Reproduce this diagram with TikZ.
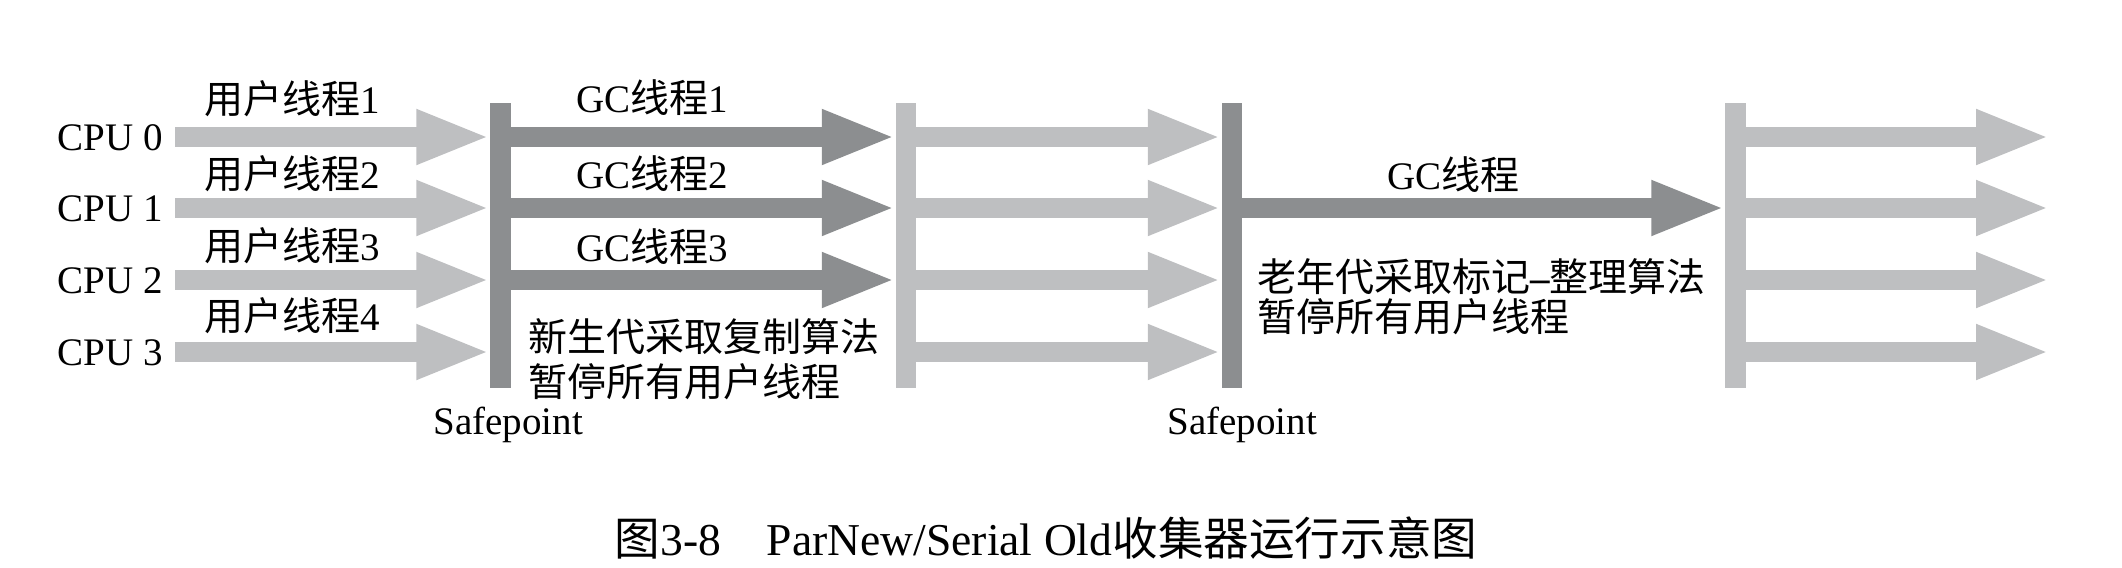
\documentclass[tikz,border=0pt]{standalone}
\usepackage{fontspec}
\setmainfont{Liberation Serif}
\newfontfamily\cjk{Noto Sans CJK SC}
\usetikzlibrary{arrows.meta}
\definecolor{lightg}{RGB}{190,191,193}
\definecolor{darkg}{RGB}{140,142,144}
\newcommand{\zh}[1]{{\cjk #1}}
\begin{document}
\begin{tikzpicture}[x=0.5pt,y=-0.5pt,
  bar/.style={inner sep=0pt, outer sep=0pt, minimum width=10.25pt, minimum height=142.5pt, draw=none},
  thread/.style={line width=10pt, -{Triangle[length=37pt,width=25pt]}},
  lbl/.style={inner sep=0pt, font=\fontsize{19.5}{23}\selectfont, anchor=base west},
  desc/.style={inner sep=0pt, align=left, anchor=west}]
\useasboundingbox (0,0) rectangle (2122,568);

% safepoint bars
\node[bar, fill=darkg]  (sp1) at (500.5,245.5) {};
\node[bar, fill=lightg] (sp2) at (906,245.5) {};
\node[bar, fill=darkg]  (sp3) at (1232,245.5) {};
\node[bar, fill=lightg] (sp4) at (1735.5,245.5) {};

% row start / end points
\coordinate (u0) at (175,137);
\coordinate (u1) at (175,208);
\coordinate (u2) at (175,280);
\coordinate (u3) at (175,352);
\coordinate (e0) at (2050,137);
\coordinate (e1) at (2050,208);
\coordinate (e2) at (2050,280);
\coordinate (e3) at (2050,352);

% user threads before first safepoint
\foreach \i in {0,...,3}{
  \draw[thread, lightg] (u\i) -- (u\i -| sp1.west);
}
% parallel GC threads
\foreach \i in {0,1,2}{
  \draw[thread, darkg] (sp1.east |- u\i) -- (sp2.west |- u\i);
}
% user threads between
\foreach \i in {0,...,3}{
  \draw[thread, lightg] (sp2.east |- u\i) -- (sp3.west |- u\i);
}
% single GC thread
\draw[thread, darkg] (sp3.east |- u1) -- (sp4.west |- u1);
% user threads after
\foreach \i in {0,...,3}{
  \draw[thread, lightg] (sp4.east |- e\i) -- (e\i);
}

% labels
\node[lbl] (cpu0) at (57,150) {CPU 0};
\node[lbl] (cpu1) at (57,221) {CPU 1};
\node[lbl] (cpu2) at (57,293) {CPU 2};
\node[lbl] (cpu3) at (57,365) {CPU 3};

\node[lbl] (ut1) at (204,113) {\zh{用户线程}1};
\node[lbl] (ut2) at (204,188) {\zh{用户线程}2};
\node[lbl] (ut3) at (204,260) {\zh{用户线程}3};
\node[lbl] (ut4) at (204,330) {\zh{用户线程}4};

\node[lbl] (gc1) at (576,112) {GC\zh{线程}1};
\node[lbl] (gc2) at (576,188) {GC\zh{线程}2};
\node[lbl] (gc3) at (576,261) {GC\zh{线程}3};
\node[lbl] (gcs) at (1387,189) {GC\zh{线程}};

\node[desc, font=\fontsize{19.5}{22.5}\selectfont\cjk] (young) at (528,359.5)
  {新生代采取复制算法\\暂停所有用户线程};
\node[desc, font=\fontsize{19.5}{20}\selectfont\cjk] (old) at (1257,297)
  {老年代采取标记{\rmfamily\bfseries –}整理算法\\暂停所有用户线程};

\node[lbl] (safe1) at (433,434) {Safepoint};
\node[lbl] (safe2) at (1167,434) {Safepoint};

\node[inner sep=0pt, anchor=base, font=\fontsize{22.8}{27}\selectfont] (cap) at (1046,555)
  {\zh{图}3-8\hspace{1em}ParNew/Serial Old\zh{收集器运行示意图}};
\end{tikzpicture}
\end{document}
